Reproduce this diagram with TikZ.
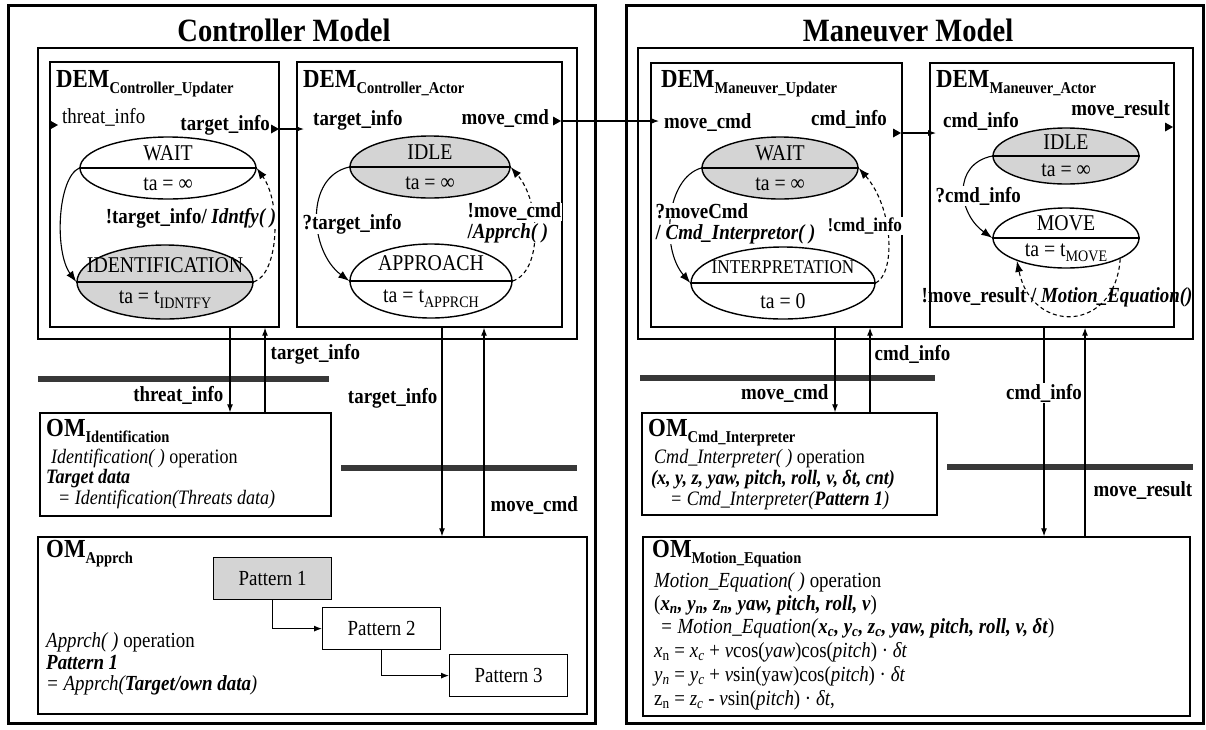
\documentclass[tikz,border=0pt]{standalone}
\usepackage{fontspec}
\setmainfont[FakeStretch=0.88]{Liberation Serif}
\usetikzlibrary{arrows.meta,shapes.geometric,fit}
\definecolor{stgray}{gray}{0.83}
\definecolor{bargray}{gray}{0.22}
\newcommand\demfont{\fontsize{26}{29}\selectfont\bfseries}
\newcommand\dsub[1]{\raisebox{-6pt}{\fontsize{16.5}{17}\selectfont #1}}
\newcommand\tsub[1]{\raisebox{-5pt}{\fontsize{16}{16}\selectfont #1}}
\newcommand\porttri[2]{\fill ({#1-8},{#2-4.5}) -- (#1,#2) -- ({#1-8},{#2+4.5}) -- cycle;}
\begin{document}
\begin{tikzpicture}[x=1pt,y=-1pt,
  frame/.style={draw, line width=3pt, inner sep=0pt},
  cont/.style={draw, line width=2.2pt, inner sep=0pt},
  dembox/.style={draw, line width=1.4pt, inner sep=0pt},
  ombox/.style={draw, line width=1.4pt, inner sep=0pt},
  st/.style={draw, ellipse, line width=1.4pt, inner sep=0pt},
  stg/.style={st, fill=stgray},
  split/.style={line width=1.4pt},
  sttxt/.style={font=\fontsize{22.5}{25}\selectfont, inner sep=0pt},
  titl/.style={font=\fontsize{32.5}{36}\selectfont\bfseries, inner sep=0pt},
  deml/.style={font=\demfont, inner sep=0pt, anchor=base west},
  port/.style={font=\fontsize{21.5}{24}\selectfont\bfseries, inner sep=0pt},
  lbl/.style={font=\fontsize{21.5}{24}\selectfont\bfseries, inner sep=0.5pt},
  omt/.style={font=\fontsize{21.5}{24}\selectfont, inner sep=0pt, anchor=base west},
  omts/.style={omt, font=\fontsize{20.5}{23}\selectfont},
  conn/.style={line width=1.1pt},
  tip/.style={-{Latex[length=8pt,width=6pt]}},
  trans/.style={line width=1.1pt, -{Latex[length=11pt,width=8pt]}},
  dtrans/.style={trans, dash pattern=on 4pt off 3pt},
  bar/.style={line width=6pt, draw=bargray},
  pat/.style={draw, line width=1.2pt, minimum width=118pt, minimum height=42pt, inner sep=0pt, font=\fontsize{21.5}{24}\selectfont, anchor=north west}
]
\fill[white] (0,0) rectangle (1206,729);
\useasboundingbox (0,0) rectangle (1206,729);

% ---------------- frames ----------------
\node[frame, fit={(8,5) (595,723)}] (cm) {};
\node[titl] (cmt) at (284,30) {Controller Model};
\node[cont, fit={(38,48) (577,339)}] (cc) {};
\node[dembox, fit={(50,62) (279,327)}] (cupd) {};
\node[dembox, fit={(297,62) (562,327)}] (cact) {};
\node[deml] (cupdl) at (56,87) {DEM\dsub{Controller\_Updater}};
\node[deml] (cactl) at (303,87) {DEM\dsub{Controller\_Actor}};

\node[frame, fit={(626,5) (1203,723)}] (mm) {};
\node[titl] (mmt) at (908,30) {Maneuver Model};
\node[cont, fit={(638,48) (1193,339)}] (mc) {};
\node[dembox, fit={(651,63) (902,327)}] (mupd) {};
\node[dembox, fit={(930,63) (1174,327)}] (mact) {};
\node[deml] (mupdl) at (661,87) {DEM\dsub{Maneuver\_Updater}};
\node[deml] (mactl) at (936,87) {DEM\dsub{Maneuver\_Actor}};

% ---------------- ports ----------------
\porttri{58}{125}
\node[font=\fontsize{21.5}{24}\selectfont, inner sep=0pt, anchor=west] (thr) at (62,117) {threat\_info};
\node[port, anchor=east] (cupdo) at (270,125) {target\_info};
\porttri{279}{129}
\coordinate (cacti) at (304,129);
\draw[conn,tip] (cupd.east |- cacti) -- (cacti);
\node[port, anchor=west] (cactin) at (313,120) {target\_info};
\node[port, anchor=east] (cacto) at (549,119) {move\_cmd};
\porttri{561}{121}
\coordinate (mupdi) at (659,121);
\draw[conn,tip] (cact.east |- mupdi) -- (mupdi);
\node[port, anchor=west] (mupdin) at (664,123) {move\_cmd};
\node[port, anchor=east] (mupdo) at (887,119) {cmd\_info};
\porttri{901}{133}
\coordinate (macti) at (936,133);
\draw[conn,tip] (mupd.east |- macti) -- (macti);
\node[port, anchor=west] (mactin) at (943,121) {cmd\_info};
\node[port, anchor=east] (macto) at (1170,110) {move\_result};
\porttri{1173}{127}

% ---------------- states ----------------
\node[st, minimum width=176pt, minimum height=62pt] (cw) at (168,168) {};
\draw[split] (cw.west) -- (cw.east);
\node[sttxt] (cwa) at (168,153) {WAIT};
\node[sttxt] (cwb) at (168,184) {ta = ∞};

\node[stg, minimum width=176pt, minimum height=74pt] (ci) at (165,282) {};
\draw[split] (ci.west) -- (ci.east);
\node[sttxt] (cia) at (165,265) {IDENTIFICATION};
\node[sttxt] (cib) at (165,300) {ta = t\tsub{IDNTFY}};

\node[stg, minimum width=160pt, minimum height=62pt] (cidle) at (430,167) {};
\draw[split] (cidle.west) -- (cidle.east);
\node[sttxt] (cidlea) at (430,152) {IDLE};
\node[sttxt] (cidleb) at (430,183) {ta = ∞};

\node[st, minimum width=162pt, minimum height=74pt] (cap) at (431,281) {};
\draw[split] (cap.west) -- (cap.east);
\node[sttxt] (capa) at (431,263) {APPROACH};
\node[sttxt] (capb) at (431,299) {ta = t\tsub{APPRCH}};

\node[stg, minimum width=156pt, minimum height=62pt] (mw) at (780,168) {};
\draw[split] (mw.west) -- (mw.east);
\node[sttxt] (mwa) at (780,153) {WAIT};
\node[sttxt] (mwb) at (780,184) {ta = ∞};

\node[st, minimum width=184pt, minimum height=72pt] (mi) at (783,283) {};
\draw[split] (mi.west) -- (mi.east);
\node[sttxt, font=\fontsize{19.5}{22}\selectfont] (mia) at (783,267) {INTERPRETATION};
\node[sttxt] (mib) at (783,301) {ta = 0};

\node[stg, minimum width=146pt, minimum height=56pt] (midle) at (1066,156) {};
\draw[split] (midle.west) -- (midle.east);
\node[sttxt] (midlea) at (1066,142) {IDLE};
\node[sttxt] (midleb) at (1066,170) {ta = ∞};

\node[st, minimum width=146pt, minimum height=60pt] (mmv) at (1066,238) {};
\draw[split] (mmv.west) -- (mmv.east);
\node[sttxt] (mmva) at (1066,223) {MOVE};
\node[sttxt] (mmvb) at (1066,253) {ta = t\tsub{MOVE}};

% ---------------- transitions ----------------
\draw[trans] (cw.west) .. controls +(-22,10) and +(-22,-30) .. (ci.west);
\draw[dtrans] (ci.east) .. controls +(25,-8) and +(25,35) .. (cw.east);
\draw[trans] (cidle.west) .. controls +(-45,10) and +(-40,-30) .. (cap.west);
\draw[dtrans] (cap.east) .. controls +(30,-10) and +(30,35) .. (cidle.east);
\draw[trans] (mw.west) .. controls +(-35,10) and +(-30,-35) .. (mi.west);
\draw[dtrans] (mi.east) .. controls +(20,-10) and +(35,40) .. (mw.east);
\draw[trans] (midle.west) .. controls +(-40,8) and +(-35,-25) .. (mmv.west);
\draw[dtrans] (mmv.-21) .. controls +(-5,74) and +(15,74) .. (mmv.-155);

\node[lbl, fill=white] (t1) at (191,218) {!target\_info/ \textit{Idntfy( )}};
\node[lbl, fill=white, anchor=west] (t2) at (302,224) {?target\_info};
\node[lbl, fill=white, anchor=west] (t3) at (467,212) {!move\_cmd};
\node[lbl, fill=white, anchor=west] (t4) at (467,233) {/\textit{Apprch( )}};
\node[lbl, fill=white, anchor=west] (t5) at (655,211) {?moveCmd};
\node[lbl, fill=white, anchor=west] (t6) at (655,234) {/ \textit{Cmd\_Interpretor( )}};
\node[lbl, fill=white, anchor=west, font=\fontsize{19.5}{22}\selectfont\bfseries] (t7) at (827,226) {!cmd\_info};
\node[lbl, fill=white, anchor=west] (t8) at (935,196) {?cmd\_info};
\node[lbl] (t9) at (1057,297) {!move\_result / \textit{Motion\_Equation()}};

% ---------------- operation models ----------------
\node[ombox, fit={(40,413) (331,516)}] (omid) {};
\node[ombox, fit={(38,537) (587,714)}] (omap) {};
\node[ombox, fit={(642,413) (937,515)}] (omci) {};
\node[ombox, fit={(643,537) (1190,716)}] (omme) {};

\draw[bar] (38,379) -- (329,379);
\draw[bar] (341,468) -- (577,468);
\draw[bar] (640,378) -- (935,378);
\draw[bar] (947,467) -- (1193,467);

\draw[conn,tip] (230,0 |- cupd.south) -- (230,0 |- omid.north);
\draw[conn,tip] (265,0 |- omid.north) -- (265,0 |- cupd.south);
\draw[conn,tip] (442,0 |- cact.south) -- (442,0 |- omap.north);
\draw[conn,tip] (484,0 |- omap.north) -- (484,0 |- cact.south);
\draw[conn,tip] (835,0 |- mupd.south) -- (835,0 |- omci.north);
\draw[conn,tip] (870,0 |- omci.north) -- (870,0 |- mupd.south);
\draw[conn,tip] (1044,0 |- mact.south) -- (1044,0 |- omme.north);
\draw[conn,tip] (1085,0 |- omme.north) -- (1085,0 |- mact.south);

\node[lbl, anchor=east] (l1) at (224,395) {threat\_info};
\node[lbl, anchor=west] (l2) at (270,354) {target\_info};
\node[lbl, anchor=east] (l3) at (438,398) {target\_info};
\node[lbl, anchor=west] (l4) at (490,506) {move\_cmd};
\node[lbl, anchor=east] (l5) at (829,394) {move\_cmd};
\node[lbl, anchor=west] (l6) at (874,354) {cmd\_info};
\node[lbl, fill=white] (l7) at (1044,393) {cmd\_info};
\node[lbl, anchor=west] (l8) at (1093,491) {move\_result};

% OM Identification
\node[deml] (omidl) at (46,436) {OM\dsub{Identification}};
\node[omts] (omid1) at (51,463) {\textit{Identification( )} operation};
\node[omts] (omid2) at (46,483) {\textbf{\textit{Target data}}};
\node[omts] (omid3) at (58,504) {\textit{= Identification(Threats data)}};

% OM Apprch
\node[deml] (omapl) at (46,557) {OM\dsub{Apprch}};
\node[pat, fill=stgray] (p1) at (213,557) {Pattern 1};
\node[pat] (p2) at (322,607) {Pattern 2};
\node[pat] (p3) at (449,654) {Pattern 3};
\draw[conn,tip] (p1.south) |- (p2.west);
\draw[conn,tip] (p2.south) |- (p3.west);
\node[omt] (omap1) at (46,647) {\textit{Apprch( )} operation};
\node[omt] (omap2) at (46,669) {\textbf{\textit{Pattern 1}}};
\node[omt] (omap3) at (46,690) {\textit{= Apprch(\textbf{Target/own data})}};

% OM Cmd Interpreter
\node[deml] (omcil) at (648,436) {OM\dsub{Cmd\_Interpreter}};
\node[omts] (omci1) at (654,463) {\textit{Cmd\_Interpreter( )} operation};
\node[omts] (omci2) at (651,484) {\textbf{\textit{(x, y, z, yaw, pitch, roll, v, δt, cnt)}}};
\node[omts] (omci3) at (670,505) {\textit{= Cmd\_Interpreter(\textbf{Pattern 1})}};

% OM Motion Equation
\node[deml] (omme0) at (652,557) {OM\dsub{Motion\_Equation}};
\node[omt] (omme1) at (654,587) {\textit{Motion\_Equation( )} operation};
\node[omt] (omme2) at (654,610) {(\textbf{\textit{x\textsubscript{n}, y\textsubscript{n}, z\textsubscript{n}, yaw, pitch, roll, v}})};
\node[omt] (omme3) at (660,633) {\textit{= Motion\_Equation(}\textbf{\textit{x\textsubscript{c}, y\textsubscript{c}, z\textsubscript{c}, yaw, pitch, roll, v, δt}})};
\node[omt] (omme4) at (654,657) {\textit{x}\textsubscript{n} = \textit{x}\textsubscript{\textit{c}} + \textit{v}cos(\textit{yaw})cos(\textit{pitch}) · \textit{δt}};
\node[omt] (omme5) at (654,681) {\textit{y}\textsubscript{\textit{n}} = \textit{y}\textsubscript{\textit{c}} + \textit{v}sin(yaw)cos(\textit{pitch}) · \textit{δt}};
\node[omt] (omme6) at (654,705) {z\textsubscript{n} = \textit{z}\textsubscript{\textit{c}} - \textit{v}sin(\textit{pitch}) · \textit{δt},};
\end{tikzpicture}
\end{document}
